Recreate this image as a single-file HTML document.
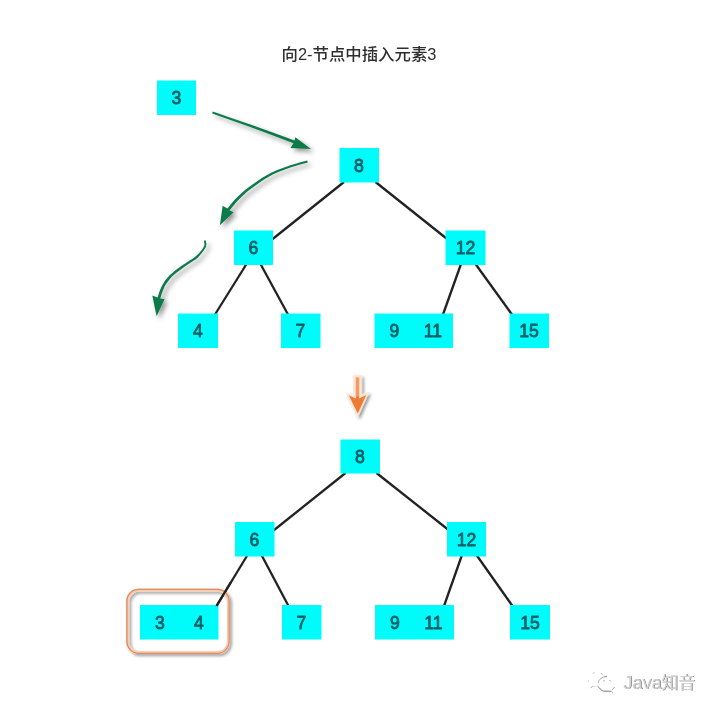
<!DOCTYPE html>
<html lang="zh-CN">
<head>
<meta charset="utf-8">
<title>向2-节点中插入元素3</title>
<style>
  html, body { margin: 0; padding: 0; background: #ffffff; }
  body { width: 720px; height: 714px; overflow: hidden; }
  svg { display: block; }
  .num { font-family: "Liberation Sans", "Noto Sans CJK SC", sans-serif; font-weight: 400; font-size: 17.6px; fill: #0d6068; stroke: #0d6068; stroke-width: 0.85; stroke-linejoin: round; text-anchor: middle; }
  .title { font-family: "Liberation Sans", "Noto Sans CJK SC", sans-serif; font-weight: 500; font-size: 16.4px; fill: #2e2e2e; text-anchor: middle; }
  .wm { font-family: "Liberation Sans", "Noto Sans CJK SC", sans-serif; font-weight: 400; font-size: 17.5px; }
  .edge { stroke: #222222; stroke-width: 2.3; stroke-linecap: butt; fill: none; }
  .box { fill: #06fcfa; }
</style>
</head>
<body>
<svg width="720" height="714" viewBox="0 0 720 714">
  <defs>
    <filter id="sh" x="-30%" y="-30%" width="170%" height="170%">
      <feGaussianBlur in="SourceAlpha" stdDeviation="2.4" result="b"/>
      <feOffset in="b" dx="3.400" dy="2.600" result="o"/>
      <feComponentTransfer in="o" result="s"><feFuncA type="linear" slope="0.42"/></feComponentTransfer>
      <feMerge><feMergeNode in="s"/><feMergeNode in="SourceGraphic"/></feMerge>
    </filter>
    <filter id="sh2" x="-40%" y="-40%" width="190%" height="190%">
      <feGaussianBlur in="SourceAlpha" stdDeviation="1.800" result="b"/>
      <feOffset in="b" dx="2.400" dy="2.400" result="o"/>
      <feComponentTransfer in="o" result="s"><feFuncA type="linear" slope="0.4"/></feComponentTransfer>
      <feMerge><feMergeNode in="s"/><feMergeNode in="SourceGraphic"/></feMerge>
    </filter>
    <filter id="gray" x="-5%" y="-20%" width="110%" height="140%" color-interpolation-filters="sRGB">
      <feOffset dx="0" dy="0"/>
    </filter>
    <filter id="glow" x="-10%" y="-10%" width="120%" height="120%">
      <feGaussianBlur stdDeviation="0.7"/>
    </filter>
    <filter id="soft" x="-10%" y="-10%" width="120%" height="120%">
      <feGaussianBlur stdDeviation="0.45"/>
    </filter>
    <filter id="wmblur" x="-10%" y="-30%" width="120%" height="160%">
      <feGaussianBlur stdDeviation="0.5"/>
    </filter>
  </defs>

  <rect x="0" y="0" width="720" height="714" fill="#ffffff"/>

  <!-- title -->
  <text class="title" x="359" y="60" filter="url(#gray)">向2-节点中插入元素3</text>

  <!-- ================= top tree edges ================= -->
  <g filter="url(#soft)">
    <line class="edge" x1="344" y1="182" x2="272" y2="239.5"/>
    <line class="edge" x1="375.5" y1="182" x2="446.5" y2="238.5"/>
    <line class="edge" x1="246.5" y1="264" x2="215" y2="314.5"/>
    <line class="edge" x1="260.5" y1="264" x2="288" y2="314.5"/>
    <line class="edge" x1="461" y1="264" x2="443" y2="314.5"/>
    <line class="edge" x1="475.5" y1="264" x2="512" y2="314.5"/>
  </g>

  <!-- ================= top tree boxes ================= -->
  <g filter="url(#soft)">
    <rect class="box" x="157" y="80.5" width="39" height="34.5"/>
    <rect class="box" x="339.5" y="148" width="39.5" height="34.5"/>
    <rect class="box" x="234" y="230.5" width="39" height="34.5"/>
    <rect class="box" x="445.5" y="230.5" width="40" height="34.5"/>
    <rect class="box" x="178" y="313.5" width="40" height="34.5"/>
    <rect class="box" x="281" y="313.5" width="39.5" height="34.5"/>
    <rect class="box" x="374.5" y="313.5" width="78.5" height="34.5"/>
    <rect class="box" x="509.5" y="313.5" width="39.5" height="34.5"/>
  </g>
  <g filter="url(#gray)">
    <text class="num" x="176.5" y="104">3</text>
    <text class="num" x="359" y="171.500">8</text>
    <text class="num" x="253.5" y="254">6</text>
    <text class="num" x="465.5" y="254">12</text>
    <text class="num" x="198" y="337">4</text>
    <text class="num" x="300.5" y="337">7</text>
    <text class="num" x="394.5" y="337">9</text>
    <text class="num" x="433" y="337">11</text>
    <text class="num" x="529" y="337">15</text>
  </g>

  <!-- ================= green arrows ================= -->
  <g filter="url(#sh)" fill="#0f7a48" stroke="none">
    <path id="A1" d="M212.2,113.4 L230.5,119.9 L249.6,126.7 L271.1,134.7 L293.5,143.2 L290.4,147.9 L311.0,148.9 L295.4,137.2 L294.5,140.4 L272.0,132.3 L250.4,124.5 L231.2,117.9 L212.8,111.6 Z"/>
    <path id="A2" d="M307.2,160.6 L301.4,162.1 L295.6,163.7 L289.7,165.5 L283.5,167.7 L277.3,170.0 L271.7,172.5 L267.1,174.9 L263.1,177.3 L259.3,179.8 L255.4,182.4 L251.5,185.2 L248.0,187.8 L245.1,190.1 L242.5,192.3 L240.1,194.5 L237.7,196.8 L235.4,199.1 L233.2,201.5 L231.2,203.8 L229.3,206.2 L227.4,208.6 L222.6,205.8 L219.9,225.2 L233.6,212.2 L229.6,210.4 L231.5,208.0 L233.4,205.7 L235.4,203.3 L237.4,201.0 L239.6,198.7 L241.9,196.5 L244.3,194.3 L246.7,192.1 L249.6,189.8 L253.0,187.2 L256.8,184.5 L260.7,181.8 L264.4,179.3 L268.3,176.9 L272.7,174.5 L278.2,172.1 L284.3,169.7 L290.3,167.5 L296.1,165.7 L301.9,164.0 L307.8,162.4 Z"/>
    <path id="A3" d="M204.0,240.6 L204.2,242.6 L204.5,244.4 L204.0,246.4 L202.1,249.4 L199.2,252.9 L196.4,255.8 L194.3,257.6 L192.2,258.9 L189.6,260.6 L186.0,262.9 L182.0,265.6 L178.3,268.2 L175.1,270.6 L172.3,272.9 L169.7,275.3 L167.5,277.7 L165.5,280.1 L163.9,282.5 L162.4,284.9 L161.3,287.2 L160.2,289.7 L159.2,292.3 L158.4,294.9 L157.5,297.6 L152.3,295.6 L156.6,316.3 L164.5,299.2 L160.3,298.4 L161.1,295.8 L161.9,293.2 L162.8,290.7 L163.8,288.4 L164.8,286.1 L166.1,283.9 L167.7,281.7 L169.4,279.4 L171.5,277.1 L173.9,274.8 L176.7,272.6 L179.7,270.2 L183.4,267.6 L187.3,264.8 L190.8,262.4 L193.4,260.8 L195.6,259.4 L198.0,257.4 L200.8,254.2 L203.7,250.6 L205.8,247.2 L206.4,244.5 L206.1,242.3 L205.8,240.4 Z"/>
  </g>

  <!-- ================= orange down arrow ================= -->
  <g filter="url(#sh2)">
    <path d="M353.400,375.600 L361.600,375.600 L361.600,395.200 L368.900,392.100 L357.800,416.900 L346.100,393.100 L353.400,395.400 Z" fill="#fce4d3" stroke="#fce4d3" stroke-width="0.600" stroke-linejoin="round"/>
  </g>
  <path d="M356,377.800 L359,377.800 L359,398.400 L366.300,395 L357.800,413.600 L348.900,395.600 L356,398.400 Z" fill="#ee7a33"/>
  <rect x="355.800" y="377.600" width="3.400" height="19" fill="#f49a62"/>

  <!-- ================= bottom tree edges ================= -->
  <g filter="url(#soft)">
    <line class="edge" x1="345.500" y1="473" x2="273.500" y2="530.500"/>
    <line class="edge" x1="376.500" y1="473" x2="448" y2="529.500"/>
    <line class="edge" x1="247.500" y1="555" x2="216.500" y2="606"/>
    <line class="edge" x1="261.500" y1="555" x2="288.500" y2="606"/>
    <line class="edge" x1="462" y1="555" x2="444" y2="606"/>
    <line class="edge" x1="476.500" y1="555" x2="512.500" y2="606"/>
  </g>

  <!-- ================= orange rounded highlight ================= -->
  <g filter="url(#sh2)">
    <rect x="127.600" y="590.100" width="100.800" height="62.500" rx="11" ry="11" fill="none" stroke="#f6cdb5" stroke-width="3"/>
  </g>
  <rect x="126.900" y="589.400" width="102.200" height="63.900" rx="11.700" ry="11.700" fill="none" stroke="#e28b5e" stroke-width="1.300"/>

  <!-- ================= bottom tree boxes ================= -->
  <g filter="url(#soft)">
    <rect class="box" x="340.500" y="439.500" width="39.500" height="34"/>
    <rect class="box" x="235" y="522" width="39.500" height="34.500"/>
    <rect class="box" x="447" y="522" width="39" height="34.500"/>
    <rect class="box" x="140" y="605" width="78.500" height="34.500"/>
    <rect class="box" x="282" y="605" width="39.500" height="34.500"/>
    <rect class="box" x="375" y="605" width="79" height="34.500"/>
    <rect class="box" x="510" y="605" width="40" height="34.500"/>
  </g>
  <!-- redraw the part of the edge that overlaps the highlight so it stays on top -->
  <line class="edge" x1="231" y1="582" x2="216.500" y2="606" filter="url(#soft)"/>
  <g filter="url(#gray)">
    <text class="num" x="360" y="463">8</text>
    <text class="num" x="254.500" y="545.500">6</text>
    <text class="num" x="466.500" y="545.500">12</text>
    <text class="num" x="160" y="628.500">3</text>
    <text class="num" x="199" y="628.500">4</text>
    <text class="num" x="301.500" y="628.500">7</text>
    <text class="num" x="395" y="628.500">9</text>
    <text class="num" x="433.500" y="628.500">11</text>
    <text class="num" x="530" y="628.500">15</text>
  </g>

  <!-- ================= watermark ================= -->
  <g>
    <!-- white wechat logo: only its faint drop-shadow fragments are visible on white -->
    <g fill="none" stroke="#8c8c8c" stroke-width="0.9" stroke-linecap="round" filter="url(#wmblur)" opacity="0.85">
      <path d="M593.300,673.600 L594.600,673.100"/>
      <path d="M600.600,674.600 L601.400,673.200 L602.500,674.800"/>
      <path d="M598.300,682.500 C598.600,679.400 601.500,677.200 606.600,676.300"/>
      <path d="M603.700,680.300 L604.300,681.100"/>
      <path d="M609.800,680.300 L610.400,681"/>
      <path d="M588.400,680.500 C589.200,682.200 590.200,683.300 591.400,684.500"/>
      <path d="M590.900,687.600 L592.600,686.400 L597.800,686.100"/>
      <path d="M597.800,686.100 C599.200,688.300 601,690 603.400,691.100 L611,691.400"/>
      <path d="M612.300,689.900 C613.200,689 613.900,688.200 614.500,687.200"/>
      <path d="M612.100,692.400 L612.600,692.800"/>
    </g>
    <g fill="#ffffff" stroke="none" opacity="0.9">
      <ellipse cx="597" cy="680" rx="8.600" ry="7.200"/>
      <ellipse cx="606.300" cy="684" rx="7.600" ry="6.500"/>
    </g>
    <g fill="none" stroke="#8c8c8c" stroke-width="0.9" stroke-linecap="round" filter="url(#wmblur)" opacity="0.85">
      <path d="M598.300,682.500 C598.600,679.400 601.500,677.200 606.600,676.300"/>
      <path d="M603.700,680.300 L604.300,681.100"/>
      <path d="M609.800,680.300 L610.400,681"/>
      <path d="M597.800,686.100 C599.200,688.300 601,690 603.400,691.100 L611,691.400"/>
    </g>
    <text class="wm" x="623.900" y="689.200" fill="#7f7f7f" filter="url(#wmblur)"><tspan font-size="18.2">Java</tspan><tspan font-size="16.7">知音</tspan></text>
    <text class="wm" x="623.200" y="688.500" fill="#d2d2d2" filter="url(#gray)"><tspan font-size="18.2">Java</tspan><tspan font-size="16.7">知音</tspan></text>
  </g>
</svg>
</body>
</html>
